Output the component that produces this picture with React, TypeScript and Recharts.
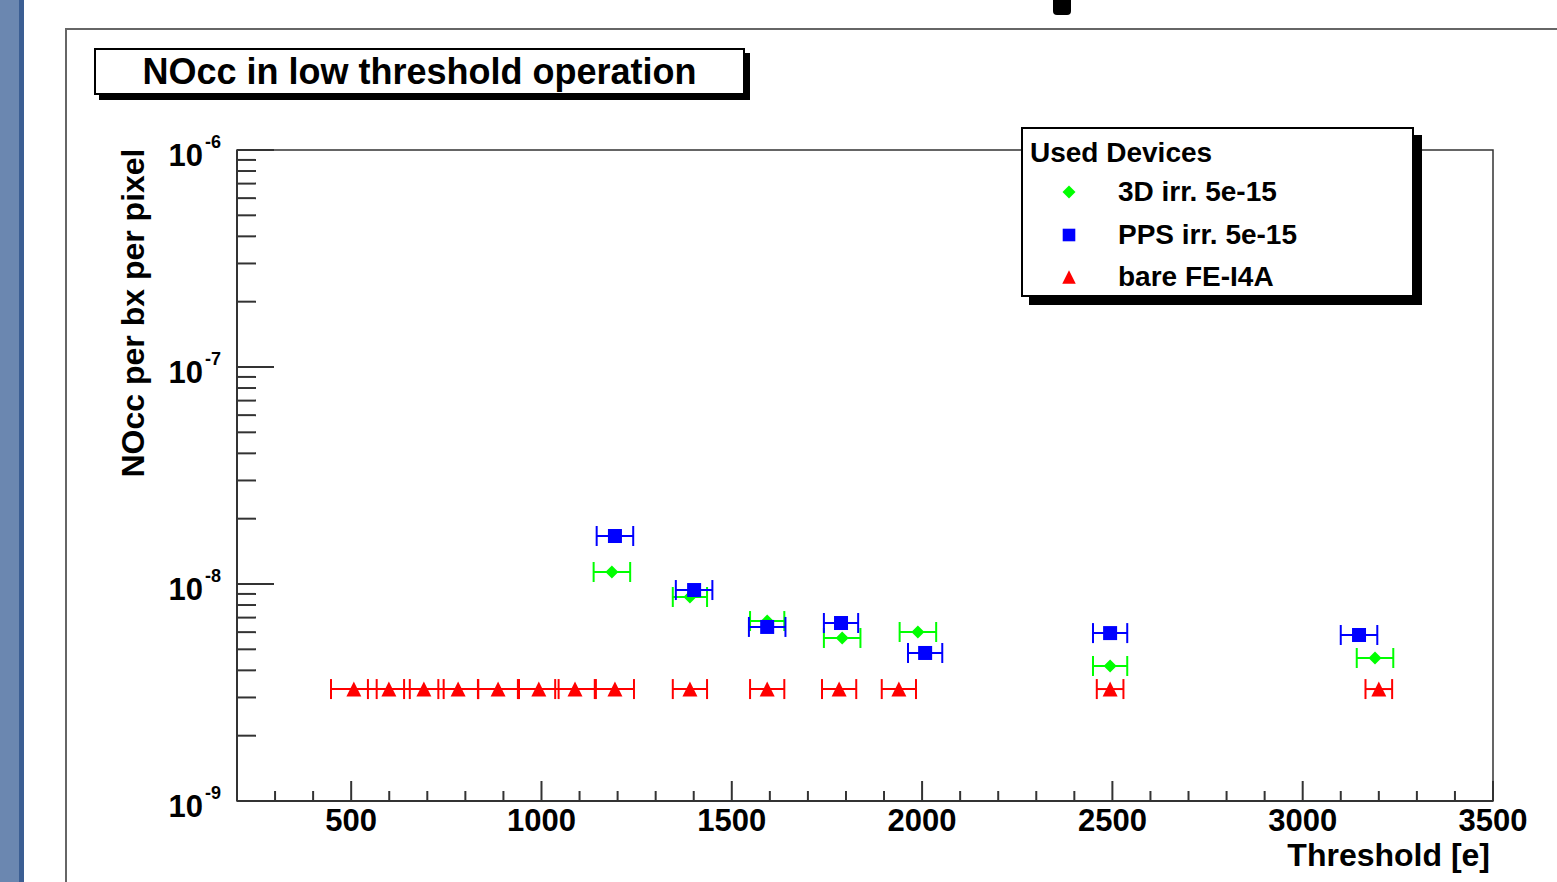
import React from "react";
import { ScatterChart, Scatter, XAxis, YAxis, ErrorBar, ReferenceArea, Legend } from "recharts";

// values (threshold in e, NOcc per bx per pixel)
const bareX = [507, 599, 691, 781, 886, 993, 1088, 1193, 1390, 1593, 1782, 1939, 2494, 3200];
const bareY = [3.28e-9, 3.28e-9, 3.28e-9, 3.28e-9, 3.28e-9, 3.28e-9, 3.28e-9, 3.28e-9, 3.28e-9, 3.28e-9, 3.28e-9, 3.28e-9, 3.28e-9, 3.28e-9];
const bareErr = [60, 55, 52, 52, 52, 52, 52, 50, 45, 45, 45, 45, 35, 35];

const d3X = [1185, 1390, 1593, 1790, 1989, 2494, 3190];
const d3Y = [1.136e-8, 8.71e-9, 6.75e-9, 5.64e-9, 6.01e-9, 4.19e-9, 4.56e-9];
const d3Err = [48, 45, 45, 48, 48, 45, 48];

const ppsX = [1193, 1401, 1593, 1787, 2008, 2494, 3148];
const ppsY = [1.664e-8, 9.38e-9, 6.34e-9, 6.61e-9, 4.81e-9, 5.94e-9, 5.82e-9];
const ppsErr = [48, 48, 48, 45, 45, 45, 48];

const xMajorTicks = [500, 1000, 1500, 2000, 2500, 3000, 3500];
const xMinorTicks = [300, 400, 600, 700, 800, 900, 1100, 1200, 1300, 1400, 1600, 1700, 1800, 1900,
  2100, 2200, 2300, 2400, 2600, 2700, 2800, 2900, 3100, 3200, 3300, 3400];
const yMajorTicks = [1e-9, 1e-8, 1e-7, 1e-6];
const yMinorTicks = [2e-9, 3e-9, 4e-9, 5e-9, 6e-9, 7e-9, 8e-9, 9e-9,
  2e-8, 3e-8, 4e-8, 5e-8, 6e-8, 7e-8, 8e-8, 9e-8,
  2e-7, 3e-7, 4e-7, 5e-7, 6e-7, 7e-7, 8e-7, 9e-7];

const legendItems = [
  { name: "3D irr. 5e-15", color: "#00ff00", marker: "diamond" },
  { name: "PPS irr. 5e-15", color: "#0000ff", marker: "square" },
  { name: "bare FE-I4A", color: "#ff0000", marker: "triangle" },
];

const FONT = '"Liberation Sans", Arial, Helvetica, sans-serif';

const toPoints = (xs: number[], ys: number[], errs: number[]) =>
  xs.map((x, i) => ({ x, y: ys[i], ex: errs[i] }));

function Marker({ cx, cy, kind, color, s = 1 }: any) {
  if (kind === "diamond") {
    const h = 6.5 * s;
    return <polygon points={`${cx},${cy - h} ${cx + h},${cy} ${cx},${cy + h} ${cx - h},${cy}`} fill={color} />;
  }
  if (kind === "square") {
    const h = 7 * s;
    return <rect x={cx - h} y={cy - h} width={2 * h} height={2 * h} fill={color} />;
  }
  const h = 7.5 * s;
  return <polygon points={`${cx},${cy - h} ${cx + h},${cy + h} ${cx - h},${cy + h}`} fill={color} />;
}

function XTick({ x, y, payload }: any) {
  const v = payload.value;
  const major = xMajorTicks.includes(v);
  return (
    <g>
      <line x1={x} x2={x} y1={y} y2={y - (major ? 20 : 10)} stroke="#333" strokeWidth={2} />
      {major && (
        <text x={x} y={y + 30} textAnchor="middle" fontFamily={FONT} fontWeight="bold" fontSize={31} fill="#000">
          {v}
        </text>
      )}
    </g>
  );
}

function YTick({ x, y, payload }: any) {
  const v = payload.value;
  const major = yMajorTicks.includes(v);
  const exp = Math.round(Math.log10(v));
  return (
    <g>
      <line x1={x} x2={x + (major ? 37 : 19)} y1={y} y2={y} stroke="#333" strokeWidth={2} />
      {major && (
        <g fontFamily={FONT} fontWeight="bold" fill="#000">
          <text x={x - 34} y={y + 16} textAnchor="end" fontSize={31}>10</text>
          <text x={x - 32} y={y - 2} textAnchor="start" fontSize={18}>{exp}</text>
        </g>
      )}
    </g>
  );
}

function LegendBox() {
  return (
    <div
      style={{
        position: "relative", width: 393, height: 170, boxSizing: "border-box",
        border: "2px solid #000", background: "#fff", boxShadow: "8px 8px 0 #000",
        fontFamily: FONT, fontWeight: "bold", fontSize: 28, color: "#000",
      }}
    >
      <div style={{ position: "absolute", left: 7, top: 7, lineHeight: "34px" }}>Used Devices</div>
      {legendItems.map((item, i) => (
        <div key={item.name} style={{ position: "absolute", left: 0, top: 46 + i * 42.5, height: 34, width: 390 }}>
          <svg width={30} height={34} style={{ position: "absolute", left: 31 }}>
            <Marker cx={15} cy={17} kind={item.marker} color={item.color} s={item.marker === "diamond" ? 1 : 0.9} />
          </svg>
          <div style={{ position: "absolute", left: 95, top: 0, lineHeight: "34px", whiteSpace: "nowrap" }}>{item.name}</div>
        </div>
      ))}
    </div>
  );
}

const series = [
  { key: "bare", data: toPoints(bareX, bareY, bareErr), color: "#ff0000", marker: "triangle" },
  { key: "3d", data: toPoints(d3X, d3Y, d3Err), color: "#00ff00", marker: "diamond" },
  { key: "pps", data: toPoints(ppsX, ppsY, ppsErr), color: "#0000ff", marker: "square" },
];

export default function App() {
  return (
    <div style={{ position: "absolute", left: 0, top: 0, width: 1557, height: 882, background: "#fff", overflow: "hidden" }}>
      <div style={{ position: "absolute", left: 0, top: 0, width: 19, height: 882, background: "#6b87b0" }} />
      <div style={{ position: "absolute", left: 19, top: 0, width: 5, height: 882, background: "#3b5e93" }} />
      <div style={{ position: "absolute", left: 65, top: 28, width: 1600, height: 900, borderLeft: "2px solid #666", borderTop: "2px solid #666" }} />
      <div style={{ position: "absolute", left: 1053, top: 0, width: 18, height: 15, background: "#000", borderRadius: "0 0 4px 4px" }} />

      <div style={{ position: "absolute", left: 0, top: 0 }}>
        <ScatterChart width={1557} height={882} margin={{ top: 150, right: 64, bottom: 41, left: 0 }}>
          <XAxis
            type="number"
            dataKey="x"
            domain={[200, 3500]}
            allowDataOverflow
            ticks={[...xMinorTicks, ...xMajorTicks].sort((a, b) => a - b)}
            interval={0}
            tick={<XTick />}
            tickLine={false}
            tickSize={0}
            tickMargin={0}
            height={40}
            axisLine={{ stroke: "#333", strokeWidth: 2 }}
          />
          <YAxis
            type="number"
            dataKey="y"
            scale="log"
            domain={[1e-9, 1e-6]}
            allowDataOverflow
            ticks={[...yMajorTicks, ...yMinorTicks].sort((a, b) => a - b)}
            interval={0}
            tick={<YTick />}
            tickLine={false}
            tickSize={0}
            tickMargin={0}
            width={237}
            axisLine={{ stroke: "#333", strokeWidth: 2 }}
          />
          <ReferenceArea x1={200} x2={3500} y1={1e-9} y2={1e-6} fill="none" stroke="#333" strokeWidth={1.5} ifOverflow="visible" />
          {series.map((s) => (
            <Scatter
              key={s.key}
              data={s.data}
              fill={s.color}
              isAnimationActive={false}
              shape={(p: any) => <Marker cx={p.cx} cy={p.cy} kind={s.marker} color={s.color} />}
            >
              <ErrorBar dataKey="ex" direction="x" width={10} strokeWidth={2} stroke={s.color} isAnimationActive={false} />
            </Scatter>
          ))}
          <Legend
            layout="vertical"
            align="center"
            verticalAlign="middle"
            wrapperStyle={{ left: 1021, top: 127, width: 401, height: 178 }}
            content={() => <LegendBox />}
          />
        </ScatterChart>
      </div>

      <div
        style={{
          position: "absolute", left: 94, top: 48, width: 651, height: 47, boxSizing: "border-box",
          border: "2px solid #000", background: "#fff", boxShadow: "5px 5px 0 #000",
          fontFamily: FONT, fontWeight: "bold", fontSize: 36, lineHeight: "43px", textAlign: "center", color: "#000",
        }}
      >
        NOcc in low threshold operation
      </div>

      <div
        style={{
          position: "absolute", left: 133, top: 313, transform: "translate(-50%, -50%) rotate(-90deg)",
          whiteSpace: "nowrap", fontFamily: FONT, fontWeight: "bold", fontSize: 32, lineHeight: "36px", color: "#000",
        }}
      >
        NOcc per bx per pixel
      </div>

      <div
        style={{
          position: "absolute", right: 67, top: 837, whiteSpace: "nowrap",
          fontFamily: FONT, fontWeight: "bold", fontSize: 32, lineHeight: "36px", color: "#000",
        }}
      >
        Threshold [e]
      </div>
    </div>
  );
}
